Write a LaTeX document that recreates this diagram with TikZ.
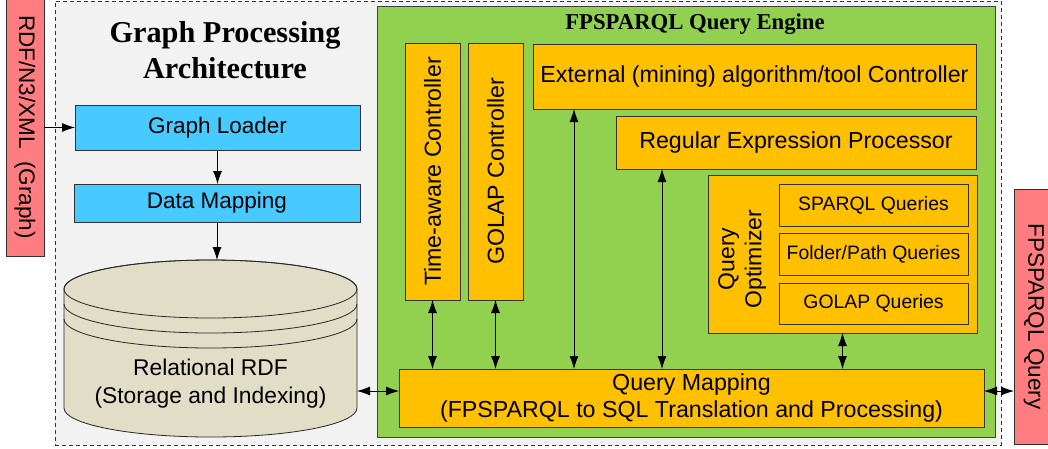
\documentclass[tikz,border=0pt]{standalone}
\usepackage{fontspec}
\setmainfont{Liberation Serif}
\setsansfont{Liberation Sans}
\usetikzlibrary{arrows.meta,calc}
\definecolor{bggray}{HTML}{F2F2F2}
\definecolor{redfill}{HTML}{FF7C80}
\definecolor{cyanfill}{HTML}{47CAFF}
\definecolor{greenfill}{HTML}{92D050}
\definecolor{orangefill}{HTML}{FFC000}
\definecolor{tanfill}{HTML}{E1DDC6}
\begin{document}
\begin{tikzpicture}[x=1pt,y=-1pt,
  box/.style={draw=black!80, line width=0.8pt, inner sep=0pt, outer sep=0pt, anchor=north west,
    font=\sffamily\fontsize{22.5}{27}\selectfont, align=center},
  bluebox/.style={box, fill=cyanfill},
  orgbox/.style={box, fill=orangefill, font=\sffamily\fontsize{23.2}{27}\selectfont},
  qbox/.style={orgbox, font=\sffamily\fontsize{19.4}{23}\selectfont},
  redbox/.style={box, fill=redfill},
  arr/.style={-{Latex[length=13pt,width=9pt]}, line width=0.8pt},
  dbl/.style={{Latex[length=13pt,width=9pt]}-{Latex[length=13pt,width=9pt]}, line width=0.8pt},
  cyl/.style={draw=black!85, line width=0.8pt}
]
\useasboundingbox (0,0) rectangle (1048,448);
\fill[white] (0,0) rectangle (1048,448);

% outer dashed frame
\node[draw=black!80, line width=0.8pt, dash pattern=on 4pt off 3pt, fill=bggray, anchor=north west,
  inner sep=0pt, outer sep=0pt, minimum width=946, minimum height=444] (outer) at (55,1) {};

% side inputs
\node[redbox, minimum width=38, minimum height=258] (rdf) at (6,-2) {\rotatebox{-90}{RDF/N3/XML\ \ (Graph)}};
\node[redbox, minimum width=40, minimum height=255] (fq) at (1014,189) {\rotatebox{-90}{FPSPARQL Query}};

% left part
\node[font=\bfseries\fontsize{30.3}{36}\selectfont, align=center] (title) at (225,50) {Graph Processing\\Architecture};
\node[bluebox, minimum width=285, minimum height=45] (gl) at (75,105) {Graph Loader};
\node[bluebox, minimum width=286, minimum height=38] (dm) at (74,184) {Data Mapping};

% cylinder
\path[cyl, fill=tanfill] (64,289) -- (64,408) arc[start angle=180, end angle=0, x radius=146.5, y radius=29]
  -- (357,289) arc[start angle=0, end angle=-180, x radius=146.5, y radius=29] -- cycle;
\draw[cyl] (210.5,289) ellipse[x radius=146.5, y radius=29];
\draw[cyl] (64,304) arc[start angle=180, end angle=0, x radius=146.5, y radius=29];
\draw[cyl] (64,319) arc[start angle=180, end angle=0, x radius=146.5, y radius=29];
\node[anchor=north west, inner sep=0pt, outer sep=0pt, minimum width=293, minimum height=177] (db) at (64,260) {};
\node[font=\sffamily\fontsize{22.8}{28}\selectfont, align=center] (dbtext) at (210.5,384) {Relational RDF\\(Storage and Indexing)};

% engine
\node[box, draw=black!75, fill=greenfill, minimum width=618, minimum height=431] (engine) at (377,6) {};
\node[font=\bfseries\fontsize{22.7}{26}\selectfont] (etitle) at (695,24) {FPSPARQL Query Engine};
\node[orgbox, minimum width=55, minimum height=257] (ta) at (405,43) {\rotatebox{90}{Time-aware Controller}};
\node[orgbox, minimum width=55, minimum height=257] (golap) at (468,43) {\rotatebox{90}{GOLAP Controller}};
\node[orgbox, minimum width=443, minimum height=65] (ext) at (533,44) {External (mining) algorithm/tool Controller};
\node[orgbox, minimum width=360, minimum height=53] (regex) at (616,116) {Regular Expression Processor};
\node[orgbox, minimum width=269, minimum height=158] (qo) at (708,175) {};
\node[font=\sffamily\fontsize{23}{29}\selectfont] (qotext) at (742,259) {\rotatebox{90}{\begin{tabular}{@{}c@{}}Query\\[-2pt]Optimizer\end{tabular}}};
\node[qbox, minimum width=189, minimum height=42] (sparql) at (779,184) {SPARQL Queries};
\node[qbox, minimum width=189, minimum height=42] (folder) at (779,233) {Folder/Path Queries};
\node[qbox, minimum width=189, minimum height=41] (golapq) at (779,283) {GOLAP Queries};
\node[orgbox, minimum width=585, minimum height=58] (qm) at (399,369) {Query Mapping\\(FPSPARQL to SQL Translation and Processing)};

% connectors
\draw[arr] (rdf.east |- gl.west) -- (gl.west);
\draw[arr] (gl.south) -- (gl.south |- dm.north);
\draw[arr] (dm.south) -- (dm.south |- db.north);
\coordinate (qml) at ([yshift=7pt]qm.west);
\coordinate (qmr) at ([yshift=7pt]qm.east);
\draw[dbl] (db.east |- qml) -- (qml);
\draw[dbl] (qmr) -- (qmr -| fq.west);
\draw[dbl] (ta.south) -- (ta.south |- qm.north);
\draw[dbl] (golap.south) -- (golap.south |- qm.north);
\coordinate (e1) at ([xshift=41pt]ext.south west);
\coordinate (r1) at ([xshift=46pt]regex.south west);
\draw[dbl] (e1) -- (e1 |- qm.north);
\draw[dbl] (r1) -- (r1 |- qm.north);
\draw[dbl] (qo.south) -- (qo.south |- qm.north);
\end{tikzpicture}
\end{document}
